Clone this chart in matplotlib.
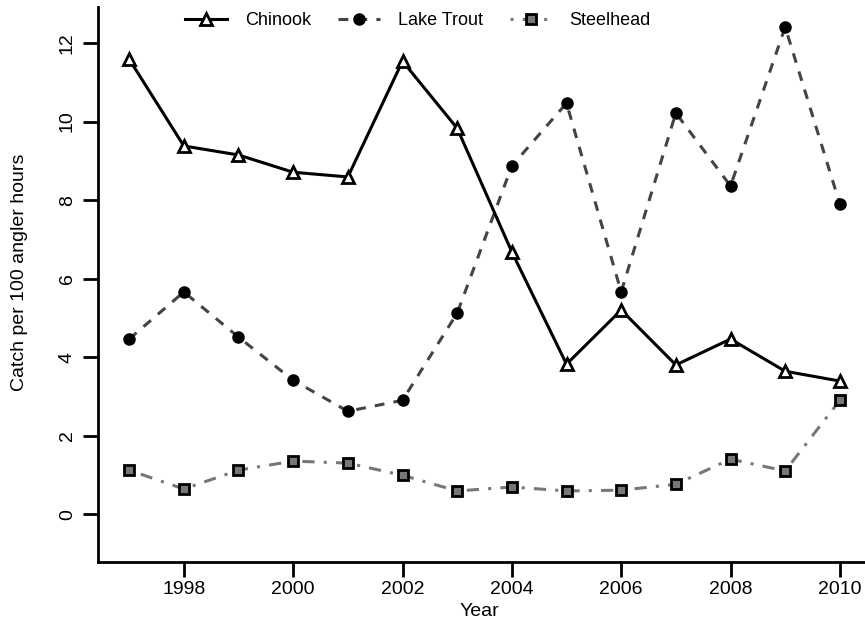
import matplotlib
matplotlib.use("Agg")
import matplotlib.pyplot as plt

years = [1997, 1998, 1999, 2000, 2001, 2002, 2003, 2004, 2005, 2006, 2007, 2008, 2009, 2010]
chinook = [11.59, 9.38, 9.15, 8.71, 8.59, 11.54, 9.83, 6.68, 3.82, 5.20, 3.80, 4.46, 3.64, 3.39]
lake_trout = [4.46, 5.66, 4.51, 3.41, 2.62, 2.90, 5.12, 8.87, 10.47, 5.66, 10.22, 8.36, 12.41, 7.90]
steelhead = [1.12, 0.64, 1.12, 1.35, 1.30, 0.99, 0.59, 0.69, 0.59, 0.61, 0.76, 1.40, 1.10, 2.90]
series_names = ["Chinook", "Lake Trout", "Steelhead"]
xticks = [1998, 2000, 2002, 2004, 2006, 2008, 2010]
yticks = [0, 2, 4, 6, 8, 10, 12]

plt.rcParams['font.family'] = ["Liberation Sans", "DejaVu Sans"]

fig = plt.figure(figsize=(8.65, 6.26), dpi=100)
ax = fig.add_axes([98/865, 64/626, 1 - 98/865, (562 - 7)/626])

ax.plot(years, chinook, color="black", lw=2.2, ls="-", marker="^", ms=9,
        mfc="white", mec="black", mew=2, label=series_names[0], zorder=4)
ax.plot(years, lake_trout, color="#444444", lw=2.2, ls=(0, (3.2, 3)), marker="o", ms=8,
        mfc="black", mec="black", label=series_names[1], zorder=3)
ax.plot(years, steelhead, color="#777777", lw=2.2, ls=(0, (1, 3, 4, 3)), marker="s", ms=7,
        mfc="#777777", mec="black", mew=2, label=series_names[2], zorder=3)

ax.set_xlim(1996.43, 2010.46)
ax.set_ylim(-1.22, 12.92)
ax.set_xticks(xticks)
ax.set_yticks(yticks)
ax.spines['top'].set_visible(False)
ax.spines['right'].set_visible(False)
for s in ('left', 'bottom'):
    ax.spines[s].set_linewidth(2)
ax.tick_params(axis='x', length=11, width=2, pad=3, labelsize=14)
ax.tick_params(axis='y', length=11, width=2, pad=5, labelsize=14)
for lbl in ax.get_yticklabels():
    lbl.set_rotation(90)
    lbl.set_va('center')

fig.text(479/865, 1 - 611/626, "Year", fontsize=14, ha='center', va='center')
fig.text(20/865, 1 - 272/626, "Catch per 100 angler hours", fontsize=14,
         ha='center', va='center', rotation=90)

leg = ax.legend(loc="upper center", ncol=3, frameon=False, fontsize=13,
                handlelength=2.3, columnspacing=1.5, handletextpad=1.0, borderaxespad=0)
leg.set_bbox_to_anchor((418/865, 1.0 - 5/626), transform=fig.transFigure)

fig.savefig("out.png", dpi=100)
